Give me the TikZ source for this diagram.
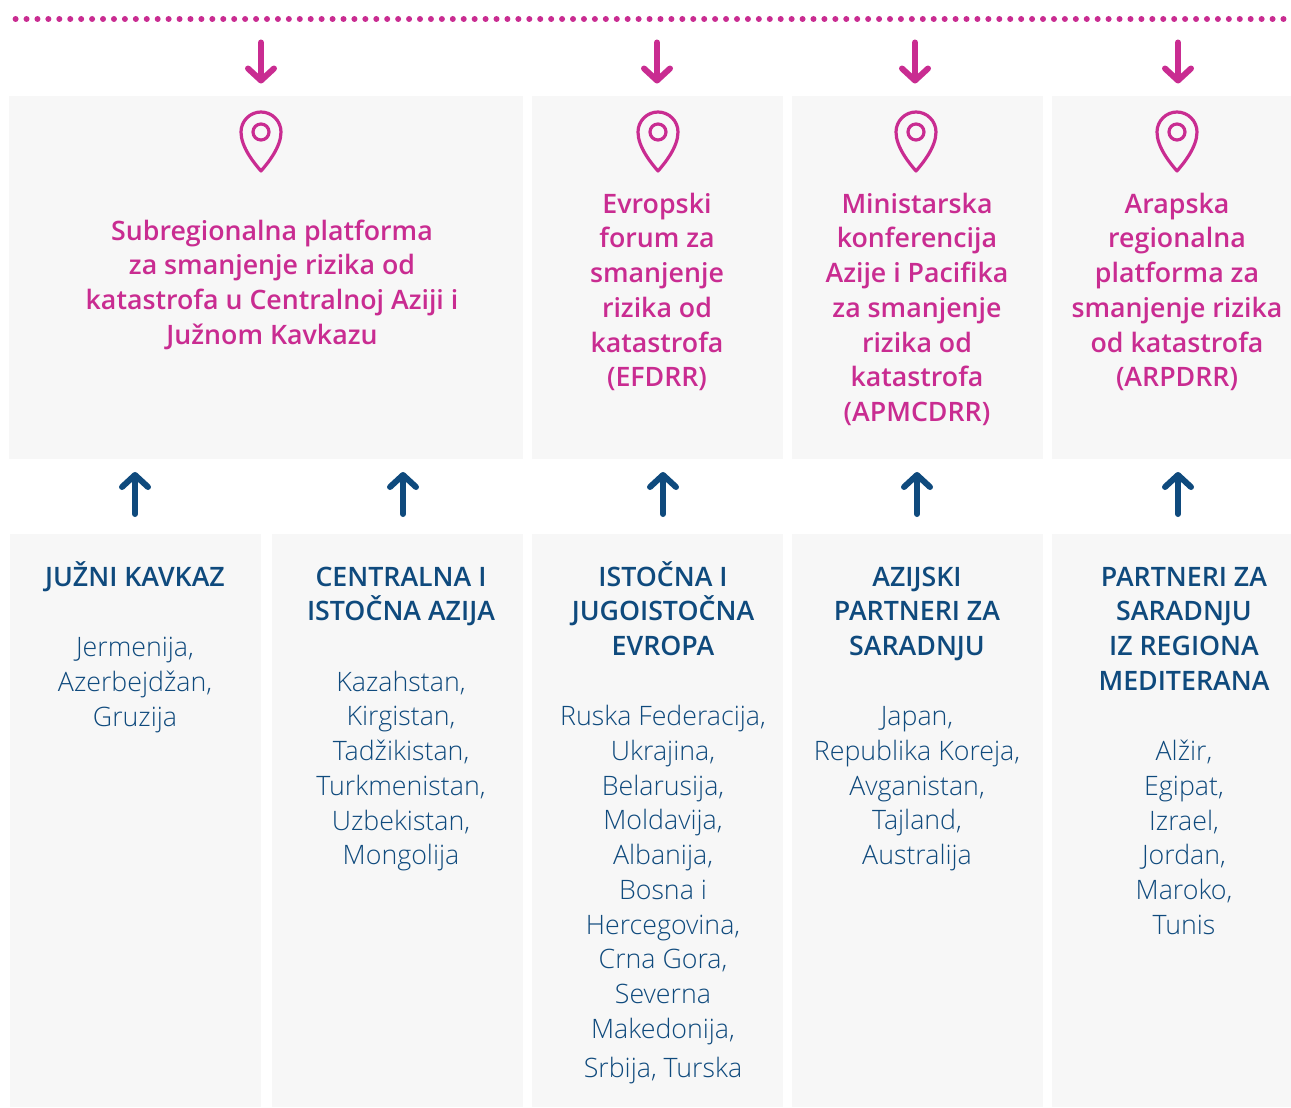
\documentclass[tikz,border=0pt]{standalone}
\usepackage{fontspec}
\setmainfont{Open Sans}
\IfFontExistsTF{Open Sans Light}{\newfontfamily\lightf{Open Sans Light}}{\newfontfamily\lightf{Open Sans}}
\IfFontExistsTF{Open Sans Semibold}{\newfontfamily\semif{Open Sans Semibold}}{\newfontfamily\semif{Open Sans}[UprightFont=*,BoldFont=*]\let\oldsemif\semif\renewcommand{\semif}{\oldsemif\bfseries}}
\usetikzlibrary{arrows.meta}
\definecolor{pinkc}{HTML}{C92C91}
\definecolor{bluec}{HTML}{0F4A7D}
\definecolor{grayc}{HTML}{F7F7F7}
\newcommand{\fs}{\rule{0pt}{28pt}}
\tikzset{
  panel/.style={fill=grayc,draw=none},
  pinktext/.style={anchor=north,align=center,inner sep=0pt,text=pinkc,font=\semif\fontsize{26.75}{34.75}\selectfont},
  headtext/.style={anchor=north,align=center,inner sep=0pt,text=bluec,font=\semif\fontsize{26.75}{34.75}\selectfont},
  listtext/.style={anchor=north,align=center,inner sep=0pt,text=bluec,font=\lightf\fontsize{26.75}{34.75}\selectfont},
  downarrow/.style={draw=pinkc,line width=6pt,line cap=round,-{Straight Barb[round,length=12pt,width=26pt]}},
  uparrow/.style={draw=bluec,line width=6pt,line cap=round,-{Straight Barb[round,length=12pt,width=26pt]}},
  pinshape/.style={draw=pinkc,line width=3.2pt,line join=round},
  pindot/.style={draw=pinkc,line width=3.2pt,circle,minimum size=16pt,inner sep=0pt},
}
\newcommand{\locpin}[2]{%
  \draw[pinshape] (#1,#2+39) .. controls (#1-7,#2+31) and (#1-20,#2+15) .. (#1-20,#2+0)
    .. controls (#1-20,#2-11) and (#1-11,#2-20) .. (#1,#2-20)
    .. controls (#1+11,#2-20) and (#1+20,#2-11) .. (#1+20,#2+0)
    .. controls (#1+20,#2+15) and (#1+7,#2+31) .. (#1,#2+39) -- cycle;
  \node[pindot] at (#1,#2) {};
}
\begin{document}
\begin{tikzpicture}[x=1pt,y=-1pt]
\useasboundingbox (0,0) rectangle (1291,1108);
% panels
\fill[panel] (9,96) rectangle (523,459);
\fill[panel] (532,96) rectangle (783,459);
\fill[panel] (792,96) rectangle (1043,459);
\fill[panel] (1052,96) rectangle (1291,459);
\fill[panel] (10,534) rectangle (261,1107);
\fill[panel] (272,534) rectangle (523,1107);
\fill[panel] (532,534) rectangle (783,1107);
\fill[panel] (792,534) rectangle (1043,1107);
\fill[panel] (1052,534) rectangle (1291,1107);
% dotted line
\draw[pinkc,line width=6pt,line cap=round,dash pattern=on 0pt off 10.93pt] (15.6,19) -- (1291,19);
% down arrows
\foreach \n/\x in {a/261,b/657,c/915,d/1178}{
  \coordinate (s\n) at (\x,42.5);
  \coordinate (e\n) at (\x,83.5);
  \draw[downarrow] (s\n) -- (e\n);
}
% up arrows
\foreach \n/\x in {a/135,b/403,c/663,d/917,e/1178}{
  \coordinate (u\n) at (\x,514);
  \coordinate (v\n) at (\x,472);
  \draw[uparrow] (u\n) -- (v\n);
}
% pins
\locpin{261}{132}
\locpin{658}{132}
\locpin{916}{132}
\locpin{1177}{132}
% pink titles
\node[pinktext] (t1) at (272,212) {\fs Subregionalna platforma\\za smanjenje rizika od\\katastrofa u Centralnoj Aziji i\\Južnom Kavkazu};
\node[pinktext] (t2) at (657,185) {\fs Evropski\\forum za\\smanjenje\\rizika od\\katastrofa\\(EFDRR)};
\node[pinktext] (t3) at (917,185) {\fs Ministarska\\konferencija\\Azije i Pacifika\\za smanjenje\\rizika od\\katastrofa\\(APMCDRR)};
\node[pinktext] (t4) at (1177,185) {\fs Arapska\\regionalna\\platforma za\\smanjenje rizika\\od katastrofa\\(ARPDRR)};
% headings
\node[headtext] (h1) at (135,558) {\fs JUŽNI KAVKAZ};
\node[headtext] (h2) at (401,558) {\fs CENTRALNA I\\ISTOČNA AZIJA};
\node[headtext] (h3) at (663,558) {\fs ISTOČNA I\\JUGOISTOČNA\\EVROPA};
\node[headtext] (h4) at (917,558) {\fs AZIJSKI\\PARTNERI ZA\\SARADNJU};
\node[headtext] (h5) at (1184,558) {\fs PARTNERI ZA\\SARADNJU\\IZ REGIONA\\MEDITERANA};
% lists
\node[listtext] (l1) at (135,628.5) {\fs Jermenija,\\Azerbejdžan,\\Gruzija};
\node[listtext] (l2) at (401,663) {\fs Kazahstan,\\Kirgistan,\\Tadžikistan,\\Turkmenistan,\\Uzbekistan,\\Mongolija};
\node[listtext] (l3) at (663,697.5) {\fs Ruska Federacija,\\Ukrajina,\\Belarusija,\\Moldavija,\\Albanija,\\Bosna i\\Hercegovina,\\Crna Gora,\\Severna\\Makedonija,\\[4.5pt]Srbija, Turska};
\node[listtext] (l4) at (917,697.5) {\fs Japan,\\Republika Koreja,\\Avganistan,\\Tajland,\\Australija};
\node[listtext] (l5) at (1184,732.5) {\fs Alžir,\\Egipat,\\Izrael,\\Jordan,\\Maroko,\\Tunis};
\end{tikzpicture}
\end{document}
